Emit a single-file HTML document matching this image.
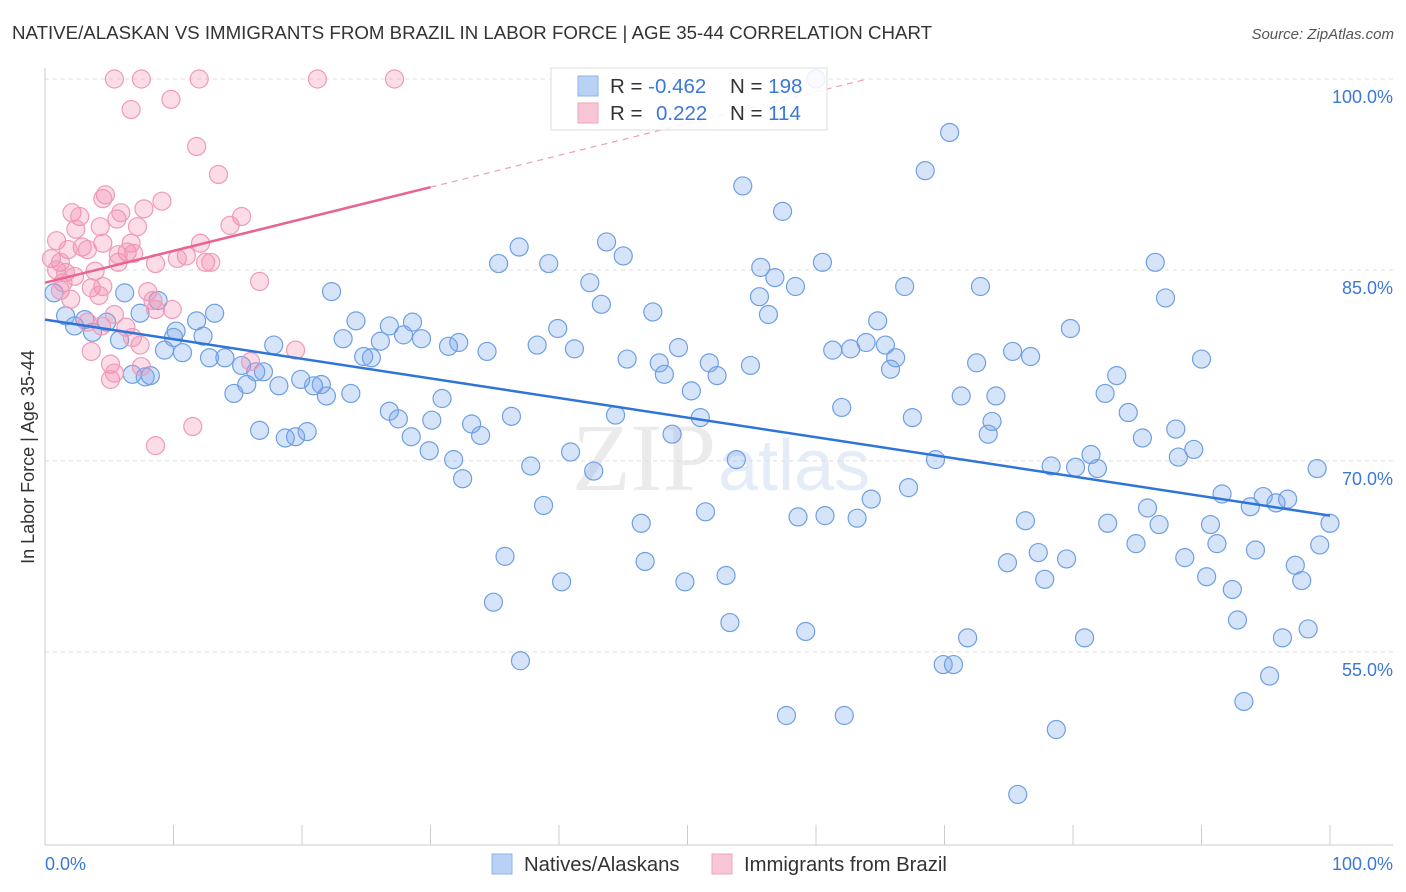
<!DOCTYPE html>
<html><head><meta charset="utf-8"><style>
body{margin:0;background:#fff;font-family:"Liberation Sans",sans-serif;}
svg{display:block}
</style></head><body>
<svg id="chart" width="1406" height="892">
<text x="12" y="39" font-size="18.7" fill="#333">NATIVE/ALASKAN VS IMMIGRANTS FROM BRAZIL IN LABOR FORCE | AGE 35-44 CORRELATION CHART</text>
<text x="1394" y="39" font-size="15" fill="#555" font-style="italic" text-anchor="end">Source: ZipAtlas.com</text>
<text x="716" y="490" font-size="96" fill="#ebebeb" text-anchor="end" font-family="Liberation Serif,serif">ZIP</text>
<text x="718" y="490" font-size="72" fill="#e3ecf7">atlas</text>
<g id="grid"></g>
<g id="axes"></g>
<g id="pts"></g>
<g id="trends"></g>
<text transform="translate(34,457) rotate(-90)" font-size="18" fill="#333" text-anchor="middle">In Labor Force | Age 35-44</text>
<text x="45" y="870" font-size="18" fill="#3b78d8">0.0%</text>
<text x="1393" y="870" font-size="18" fill="#3b78d8" text-anchor="end">100.0%</text>
<g>
<rect x="551" y="68" width="276" height="62" fill="rgba(255,255,255,0.85)" stroke="#ddd"/>
<rect x="578" y="76" width="20" height="20" fill="#b9d1f4" stroke="#8fb2e8"/>
<rect x="578" y="103" width="20" height="20" fill="#f9c6d6" stroke="#f0a3bd"/>
<text x="610" y="93" font-size="20.5" fill="#333">R = <tspan fill="#3b78d8">-0.462</tspan><tspan x="730">N = </tspan><tspan fill="#3b78d8">198</tspan></text>
<text x="610" y="120" font-size="20.5" fill="#333">R = <tspan x="656" fill="#3b78d8">0.222</tspan><tspan x="730">N = </tspan><tspan fill="#3b78d8">114</tspan></text>
</g>
<g>
<rect x="492" y="854" width="20" height="20" fill="#b9d1f4" stroke="#8fb2e8"/>
<text x="524" y="871" font-size="20.3" fill="#333">Natives/Alaskans</text>
<rect x="712" y="854" width="20" height="20" fill="#f9c6d6" stroke="#f0a3bd"/>
<text x="744" y="871" font-size="20.3" fill="#333">Immigrants from Brazil</text>
</g>
</svg>
<script>
const yTicks=[100,85,70,55];
const yTickLabels=["100.0%","85.0%","70.0%","55.0%"];
const xTicks=[0,10,20,30,40,50,60,70,80,90,100];
const blueX=[70.4,68.5,54.3,57.4,43.7,36.9,45,35.3,39.2,60.5,55.7,56.8,42.4,58.4,66.9,72.8,86.4,87.2,55.6,43.3,47.3,56.3,22.3,6.2,0.7,8.8,13.2,11.8,7.4,1.6,3.1,4.8,2.3,10.2,24.2,26.8,28.6,27.9,29.3,32.2,31.4,39.9,23.2,26.1,38.3,41.2,34.4,45.3,47.8,49.3,48.2,51.7,52.3,54.9,50.3,64.8,63.9,62.7,61.3,65.4,66.2,65.8,79.8,75.3,76.7,72.5,90,83.4,82.5,71.3,74,84.3,67.5,62,73.7,73.4,85.4,88,89.4,88.2,81.4,80.2,81.9,78.3,69.3,99,67.2,64.3,91.6,93.8,94.8,95.8,96.7,100,85.8,86.7,82.7,76.3,90.7,91.2,84.9,94.2,99.2,88.7,77.3,79.5,74.9,97.3,90.4,92.4,97.8,77.8,92.8,96.3,98.3,80.9,71.8,69.9,70.7,95.3,93.3,78.7,62.2,57.7,75.7,59.2,53.3,53,49.8,46.7,46.4,51.4,58.6,60.7,63.2,53.8,48.8,51,44.4,42.7,40.9,37.8,38.8,35.8,40.2,34.9,37,36.3,33.2,33.9,30.9,30.1,31.8,32.5,29.9,28.5,27.5,26.8,23.8,21.9,21.5,20.9,19.9,18.2,17.8,17,16.4,15.7,15.3,14.7,14,12.8,10.7,9.3,10,12.3,5.8,3.7,6.8,7.8,8.2,16.7,18.7,19.5,20.4,24.8,25.4,60];
const blueY=[95.8,92.8,91.6,89.6,87.2,86.8,86.1,85.5,85.5,85.6,85.2,84.4,84,83.7,83.7,83.7,85.6,82.8,82.9,82.3,81.7,81.5,83.3,83.2,83.2,82.6,81.6,81,81.6,81.4,81.1,80.9,80.6,80.2,81,80.6,80.9,79.9,79.6,79.3,79,80.4,79.6,79.4,79.1,78.8,78.6,78,77.7,78.9,76.8,77.7,76.7,77.5,75.5,81,79.3,78.8,78.7,79.1,78.1,77.2,80.4,78.6,78.2,77.7,78,76.7,75.3,75.1,75.1,73.8,73.4,74.2,73.1,72.1,71.8,72.5,70.9,70.3,70.5,69.5,69.4,69.6,70.1,69.4,67.9,67,67.4,66.4,67.2,66.7,67,65.1,66.3,65,65.1,65.3,65,63.5,63.5,63,63.4,62.4,62.8,62.3,62,61.8,60.9,59.9,60.6,60.7,57.5,56.1,56.8,56.1,56.1,54,54,53.1,51.1,48.9,50,50,43.8,56.6,57.3,61,60.5,62.1,65.1,66,65.6,65.7,65.5,70.1,72.1,73.4,73.6,69.2,70.7,69.6,66.5,62.5,60.5,58.9,54.3,73.5,72.9,72,74.9,73.2,70.1,68.6,70.8,71.9,73.3,73.9,75.3,75.1,76,75.9,76.4,75.9,79.1,77,77,76,77.5,75.3,78.1,78.1,78.5,78.7,79.7,79.8,79.5,80.1,76.8,76.6,76.7,72.4,71.8,71.9,72.3,78.2,78.1,100];
const pinkX=[5.4,7.5,12,21.2,27.2,9.8,6.7,11.8,13.5,4.7,4.5,9.1,7.7,15.3,2.1,2.7,5.6,5.9,14.4,7.2,4.3,2.4,0.9,4.5,6.7,12.1,2.9,3.3,1.8,6.4,6.9,11,10.3,12.5,8.6,5.7,0.5,1.2,0.9,1.6,2.3,3.9,1.4,3.6,4.5,1.2,2,4.2,8,8.4,9.9,8.6,5.4,3.3,6.3,4.4,6.8,7.4,3.6,5.1,5.4,5.1,7.5,16.7,19.5,16,11.5,8.6,12.9,5.7];
const pinkY=[100,100,100,100,100,98.4,97.6,94.7,92.5,90.9,90.6,90.4,89.8,89.2,89.5,89.2,89,89.5,88.5,88.4,88.4,88.2,87.3,87.1,87.1,87.1,86.8,86.6,86.6,86.4,86.3,86.1,85.9,85.6,85.5,85.6,85.9,85.6,85,84.8,84.5,84.9,84,83.6,83.7,83.4,82.7,83,83.3,82.6,81.9,81.9,81.5,80.9,80.5,80.6,79.7,79.1,78.6,77.6,76.9,76.4,77.4,84.1,78.7,77.8,72.7,71.2,85.6,86.2];
const blueTrend=[81.1,65.7];
const pinkTrend=[84.0,91.5];
const NS="http://www.w3.org/2000/svg";
const X0=45,X1=1330,Y100=79,PXY=12.73;
function sx(v){return X0+(X1-X0)*v/100;}
function sy(v){return Y100+(100-v)*PXY;}
function mk(tag,attrs,parent){const e=document.createElementNS(NS,tag);for(const k in attrs)e.setAttribute(k,attrs[k]);parent.appendChild(e);return e;}
const grid=document.getElementById('grid'),axes=document.getElementById('axes'),pts=document.getElementById('pts'),tr=document.getElementById('trends');
yTicks.forEach((t,i)=>{
 const l=mk('line',{x1:45,x2:1393,y1:sy(t),y2:sy(t),stroke:'#ddd','stroke-dasharray':'4,4'},grid);
 
 
 const tx=mk('text',{x:1393,y:sy(t)+24,'font-size':18,fill:'#3b78d8','text-anchor':'end'},grid);
 tx.textContent=yTickLabels[i];
 
 
});
const ya=mk('line',{x1:45,x2:45,y1:68,y2:845,stroke:'#ccc'},axes);


const xa=mk('line',{x1:45,x2:1393,y1:845,y2:845,stroke:'#ccc'},axes);


xTicks.forEach(t=>{
 const l=mk('line',{x1:sx(t),x2:sx(t),y1:825,y2:845,stroke:'#ccc'},axes);
 
 
});
blueX.forEach((x,i)=>{
 const c=mk('circle',{cx:sx(x),cy:sy(blueY[i]),r:9,fill:'rgba(120,165,235,0.3)',stroke:'#6f9fe3','stroke-width':1.2},pts);
 
 
});
pinkX.forEach((x,i)=>{
 const c=mk('circle',{cx:sx(x),cy:sy(pinkY[i]),r:9,fill:'rgba(242,140,175,0.3)',stroke:'#f09ab8','stroke-width':1.2},pts);
 
 
});
const bl=mk('line',{x1:sx(0),y1:sy(blueTrend[0]),x2:sx(100),y2:sy(blueTrend[1]),stroke:'#2f74d8','stroke-width':2.5},tr);


const slope=(pinkTrend[1]-pinkTrend[0])/30;
const xEnd=(100-pinkTrend[0])/slope;
const pl=mk('line',{x1:sx(0),y1:sy(pinkTrend[0]),x2:sx(30),y2:sy(pinkTrend[1]),stroke:'#e8648f','stroke-width':2.5},tr);


const pd=mk('line',{x1:sx(30),y1:sy(pinkTrend[1]),x2:sx(xEnd),y2:sy(100),stroke:'#eea0b8','stroke-width':1.2,'stroke-dasharray':'6,5'},tr);


</script>
</body></html>
